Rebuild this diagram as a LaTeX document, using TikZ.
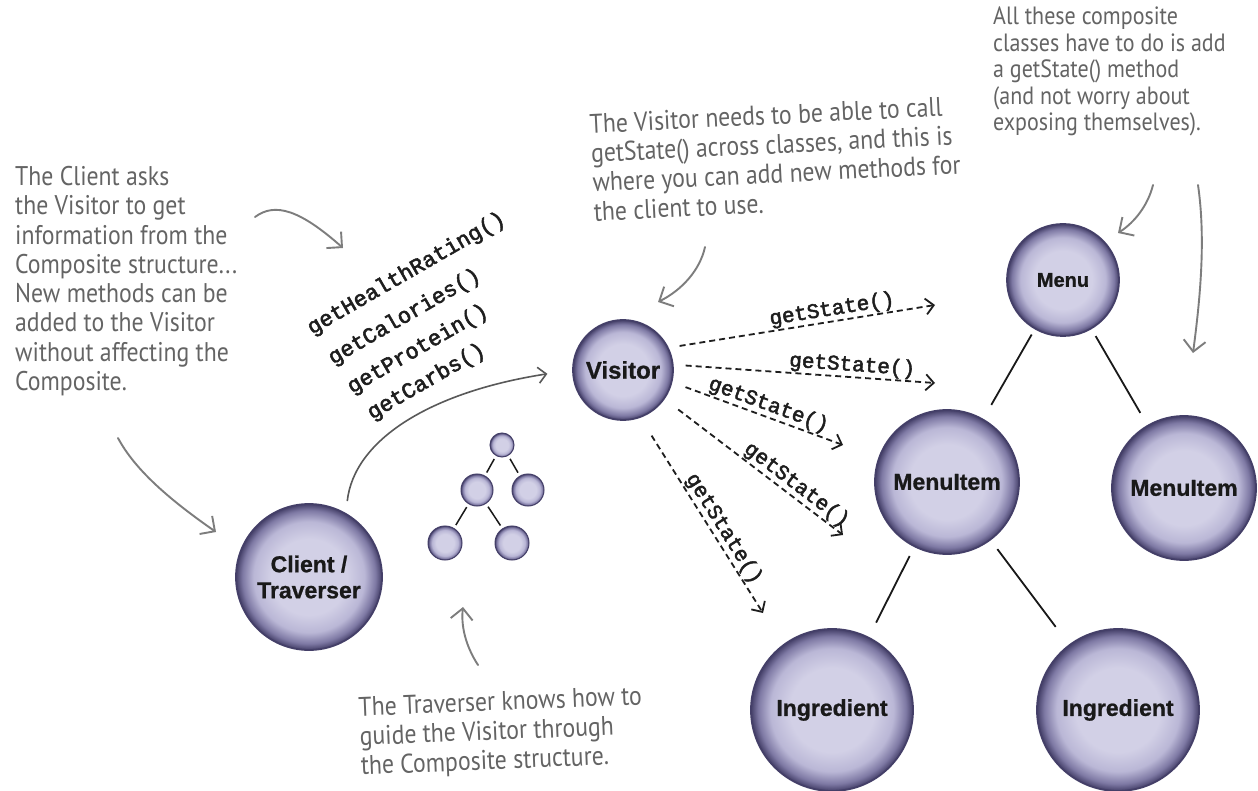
\documentclass[tikz,border=0pt]{standalone}
\usepackage{fontspec}
\setmainfont{Liberation Sans}
\newfontfamily\bubfont{Liberation Sans}[BoldFeatures={FakeBold=0.9}]
\newfontfamily\codefont{Liberation Mono}[FakeBold=2.4]
\newfontfamily\handfont{PT Sans}[FakeStretch=0.88]
\usetikzlibrary{arrows.meta}
\definecolor{bin}{RGB}{210,208,230}
\definecolor{bmid}{RGB}{186,183,214}
\definecolor{bedge}{RGB}{126,121,164}
\definecolor{bborder}{RGB}{68,63,104}
\definecolor{hgray}{RGB}{100,100,100}
\definecolor{agray}{RGB}{125,125,125}
\definecolor{dgray}{RGB}{30,30,30}
\pgfdeclareradialshading{bubble}{\pgfpoint{0bp}{0bp}}{%
  color(0bp)=(bin); color(13bp)=(bin); color(19bp)=(bmid);
  color(22.8bp)=(bedge); color(25bp)=(bborder); color(50bp)=(bborder)}
\tikzset{
  bubble/.style={circle, shading=bubble, draw=bborder, line width=1.8pt,
    font=\bubfont\bfseries\fontsize{23}{26}\selectfont, text=black!90, align=center, inner sep=0pt},
  mini/.style={circle, shading=bubble, draw=bborder, line width=1pt, inner sep=0pt},
  edge/.style={draw=black!90, line width=1.8pt},
  minedge/.style={draw=black!90, line width=1.5pt, shorten <=3.5pt, shorten >=3.5pt},
  meth/.style={font=\codefont\fontsize{22}{24}\selectfont, text=dgray, rotate=30, anchor=base west, inner sep=0pt},
  gs/.style={font=\codefont\fontsize{21}{23}\selectfont, text=dgray, sloped, above, inner sep=1pt},
  dasharrow/.style={draw=dgray, line width=1.8pt, dash pattern=on 6pt off 4pt,
    -{Straight Barb[length=8pt,width=16pt]}},
  hand/.style={font=\handfont\fontsize{27}{29.3}\selectfont, text=hgray, align=left, inner sep=0pt, anchor=north west},
  harrow/.style={draw=agray, line width=1.9pt, line cap=round, -{Straight Barb[length=11pt,width=22pt]}},
  cvarrow/.style={draw=black!65, line width=1.6pt, -{Straight Barb[length=8pt,width=16pt]}}
}
\begin{document}
\begin{tikzpicture}[x=1pt,y=-1pt]
\useasboundingbox (0,0) rectangle (1258,791);
\fill[white] (0,0) rectangle (1258,791);

% main bubbles
\node[bubble, minimum size=146pt] (cl) at (309,577) {Client /\\Traverser};
\node[bubble, minimum size=100pt, font=\bubfont\bfseries\fontsize{24}{26}\selectfont] (vis) at (623,370) {Visitor};
\node[bubble, minimum size=112pt, font=\bubfont\bfseries\fontsize{20}{24}\selectfont] (menu) at (1063,280) {Menu};
\node[bubble, minimum size=144pt] (mi1) at (947,482) {MenuItem};
\node[bubble, minimum size=144pt] (mi2) at (1184,488) {MenuItem};
\node[bubble, minimum size=162pt] (ing1) at (832,710) {Ingredient};
\node[bubble, minimum size=162pt] (ing2) at (1118,710) {Ingredient};

% composite edges
\draw[edge, shorten <=6pt, shorten >=16pt] (menu) -- (mi1);
\draw[edge, shorten <=8pt, shorten >=14pt] (menu) -- (mi2);
\draw[edge, shorten <=10pt, shorten >=16pt] (mi1) -- (ing1);
\draw[edge, shorten <=11pt, shorten >=22pt] (mi1) -- (ing2);

% small tree
\node[mini, minimum size=24pt] (t0) at (502,445) {};
\node[mini, minimum size=32pt] (t1) at (477,490) {};
\node[mini, minimum size=32pt] (t2) at (528,490) {};
\node[mini, minimum size=34pt] (t3) at (445,543) {};
\node[mini, minimum size=34pt] (t4) at (512,543) {};
\draw[minedge] (t0) -- (t1);
\draw[minedge] (t0) -- (t2);
\draw[minedge] (t1) -- (t3);
\draw[minedge] (t1) -- (t4);

% client -> visitor
\draw[cvarrow, shorten <=12pt, shorten >=25pt] (cl.60) .. controls (354,440) and (430,392) .. (vis.180);

% method labels
\node[meth] (m1) at (312,335) {getHealthRating()};
\node[meth] (m2) at (333,365) {getCalories()};
\node[meth] (m3) at (352,394) {getProtein()};
\node[meth] (m4) at (372,420) {getCarbs()};

% getState arrows
\coordinate (e1) at (935,305);
\coordinate (e2) at (935,383);
\coordinate (e3) at (843,445);
\coordinate (e4) at (843,535);
\coordinate (e5) at (763,613);
\draw[dasharrow, shorten <=11pt] (vis.26) -- node[gs, pos=0.62] (g1) {getState()} (e1);
\draw[dasharrow, shorten <=12pt] (vis.6) -- node[gs, pos=0.68] (g2) {getState()} (e2);
\draw[dasharrow, shorten <=14pt] (vis.-14) -- node[gs, pos=0.54] (g3) {getState()} (e3);
\draw[dasharrow, shorten <=17pt] (vis.-35) -- node[gs, pos=0.7] (g4) {getState()} (e4);
\draw[dasharrow, shorten <=21pt] (vis.-70) -- node[gs, pos=0.6] (g5) {getState()} (e5);

% annotations
\node[hand] (n1) at (15,166) {The Client asks\\the Visitor to get\\information from the\\Composite structure...\\New methods can be\\added to the Visitor\\without affecting the\\Composite.};
\node[hand, rotate=2.8] (n2) at (589,114) {The Visitor needs to be able to call\\getState() across classes, and this is\\where you can add new methods for\\the client to use.};
\node[hand, font=\handfont\fontsize{25}{26.5}\selectfont] (n3) at (993,7) {All these composite\\classes have to do is add\\a getState() method\\(and not worry about\\exposing themselves).};
\node[hand, rotate=2.3] (n4) at (358,697) {The Traverser knows how to\\guide the Visitor through\\the Composite structure.};

% handwritten arrows
\coordinate (a1s) at (255,217); \coordinate (a1e) at (343,248);
\coordinate (a2s) at (118,438); \coordinate (a2e) at (216,532);
\coordinate (a3s) at (705,247); \coordinate (a3e) at (658,302);
\coordinate (a4s) at (1153,185); \coordinate (a4e) at (1118,233);
\coordinate (a5s) at (1198,185); \coordinate (a5e) at (1193,353);
\coordinate (a6s) at (478,665); \coordinate (a6e) at (463,607);
\draw[harrow] (a1s) .. controls (275,202) and (300,210) .. (a1e);
\draw[harrow] (a2s) .. controls (135,470) and (170,500) .. (a2e);
\draw[harrow] (a3s) .. controls (700,270) and (682,290) .. (a3e);
\draw[harrow] (a4s) .. controls (1148,205) and (1135,222) .. (a4e);
\draw[harrow] (a5s) .. controls (1206,240) and (1200,300) .. (a5e);
\draw[harrow] (a6s) .. controls (465,645) and (461,625) .. (a6e);
\end{tikzpicture}
\end{document}
